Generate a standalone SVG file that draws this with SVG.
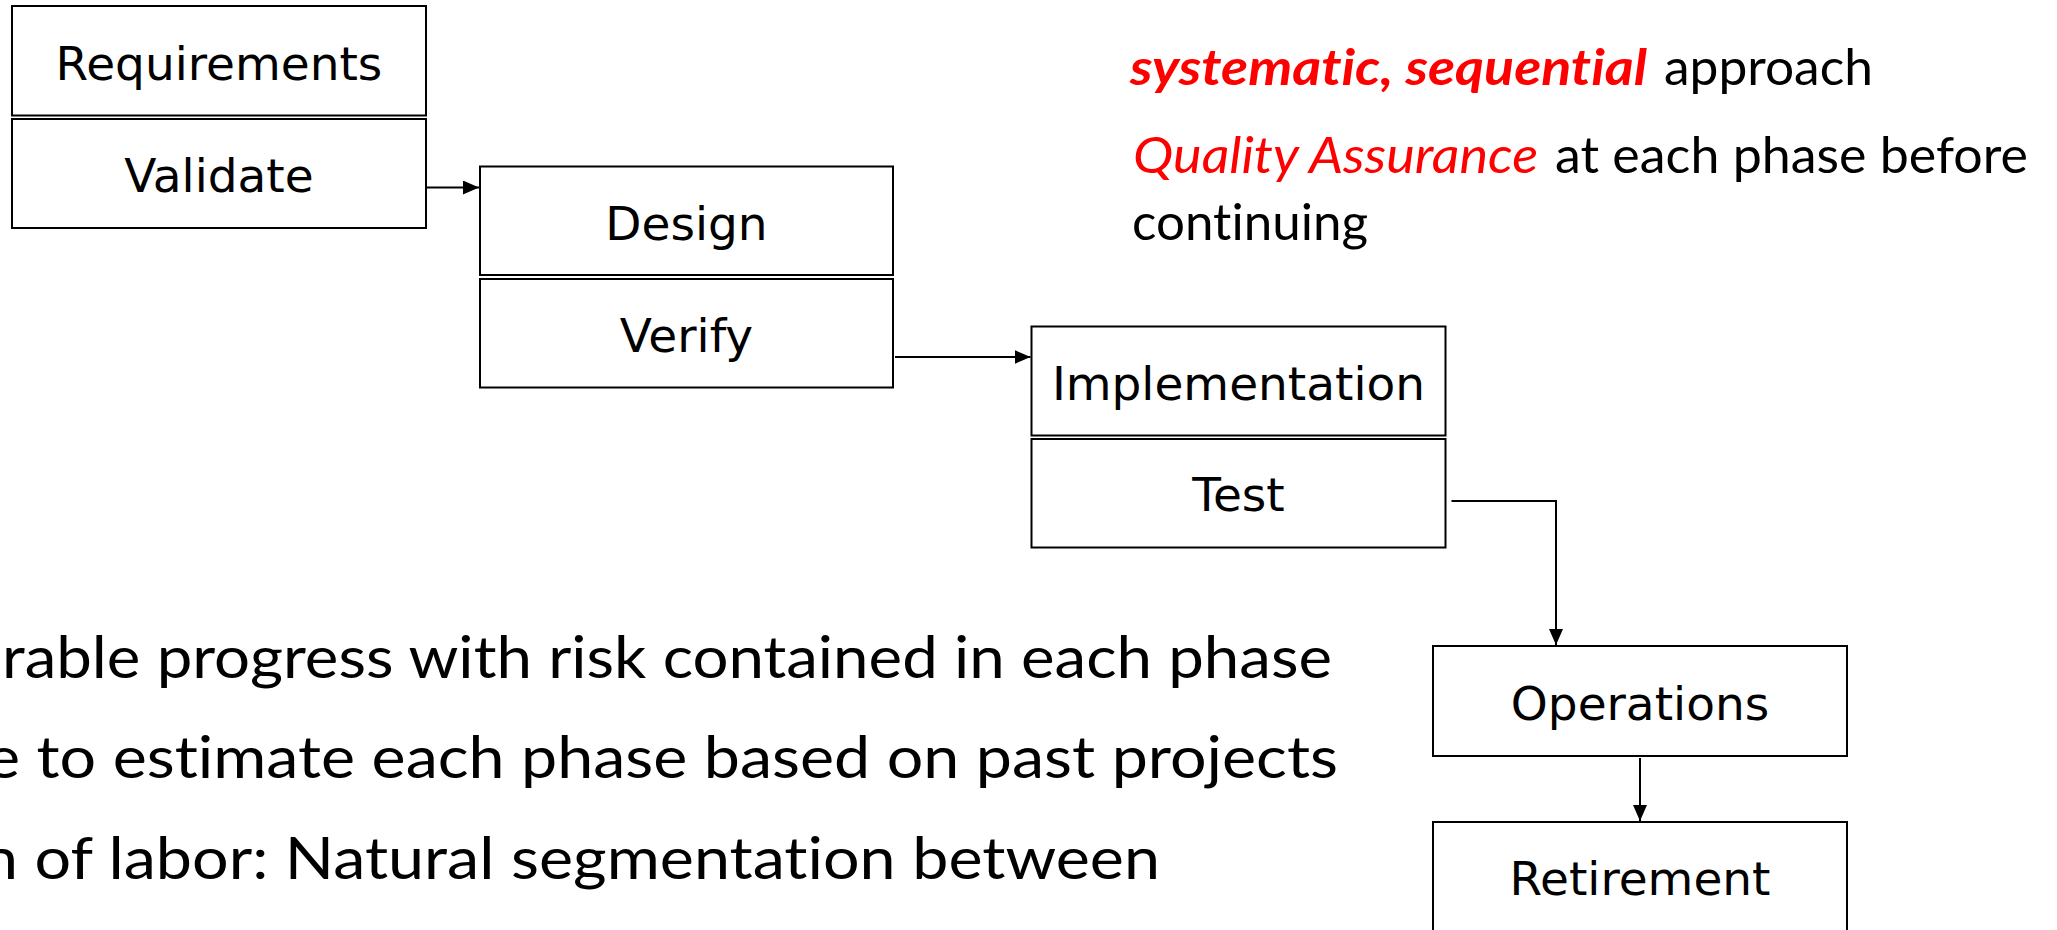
<svg xmlns="http://www.w3.org/2000/svg" width="2057" height="930" viewBox="0 0 2057 930">
  <style>
    .box { fill: #ffffff; stroke: #000000; stroke-width: 2; }
    .lbl { font-family: "DejaVu Sans", Verdana, sans-serif; font-size: 47px; fill: #000000; text-anchor: middle; }
    .wire { fill: none; stroke: #000000; stroke-width: 2; }
    .note { font-family: Lato, "Open Sans", sans-serif; font-size: 50px; fill: #000000; font-variant-ligatures: none; }
    .hl { fill: #ff0000; font-style: italic; }
    .bul { font-family: Lato, "Open Sans", sans-serif; font-size: 59px; fill: #000000; font-variant-ligatures: none; }
  </style>
  <defs>
    <marker id="head" markerWidth="8" markerHeight="7" refX="8" refY="3.5" orient="auto" markerUnits="strokeWidth">
      <path d="M0,0 L8,3.5 L0,7 Z" fill="#000000"/>
    </marker>
  </defs>
  <rect width="2057" height="930" fill="#ffffff"/>

  <!-- phase boxes: each phase has its activity box stacked below -->
  <g id="requirements">
    <rect class="box" x="12" y="6" width="414" height="109.5"/>
    <text class="lbl" x="219" y="80">Requirements</text>
  </g>
  <g id="validate">
    <rect class="box" x="12" y="119" width="414" height="109"/>
    <text class="lbl" x="219" y="192">Validate</text>
  </g>
  <g id="design">
    <rect class="box" x="480" y="166.5" width="413" height="108.5"/>
    <text class="lbl" x="686.5" y="240">Design</text>
  </g>
  <g id="verify">
    <rect class="box" x="480" y="279" width="413" height="108.5"/>
    <text class="lbl" x="686.5" y="351.5">Verify</text>
  </g>
  <g id="implementation">
    <rect class="box" x="1031.5" y="326.5" width="414" height="109"/>
    <text class="lbl" x="1238.5" y="399.5">Implementation</text>
  </g>
  <g id="test">
    <rect class="box" x="1031.5" y="439" width="414" height="108.5"/>
    <text class="lbl" x="1238.5" y="511">Test</text>
  </g>
  <g id="operations">
    <rect class="box" x="1433" y="646" width="414" height="110"/>
    <text class="lbl" x="1640" y="719.5">Operations</text>
  </g>
  <g id="retirement">
    <rect class="box" x="1433" y="822" width="414" height="130"/>
    <text class="lbl" x="1640" y="895">Retirement</text>
  </g>

  <!-- flow between phases -->
  <g id="connectors">
    <path class="wire" d="M427,187.5 H479" marker-end="url(#head)"/>
    <path class="wire" d="M895,357 H1030.5" marker-end="url(#head)"/>
    <path class="wire" d="M1451.5,501 H1556 V645" marker-end="url(#head)"/>
    <path class="wire" d="M1640,758 V821" marker-end="url(#head)"/>
  </g>

  <!-- notes on the right -->
  <g id="notes">
    <text class="note hl" x="1130" y="85" font-weight="bold" textLength="517" lengthAdjust="spacingAndGlyphs">systematic, sequential</text>
    <text class="note" x="1664" y="85" textLength="209" lengthAdjust="spacingAndGlyphs">approach</text>
    <text class="note hl" x="1133" y="173" textLength="405" lengthAdjust="spacingAndGlyphs">Quality Assurance</text>
    <text class="note" x="1555" y="173" textLength="473" lengthAdjust="spacingAndGlyphs">at each phase before</text>
    <text class="note" x="1132" y="240" textLength="236" lengthAdjust="spacingAndGlyphs">continuing</text>
  </g>

  <!-- bullet lines along the bottom; they run past the left edge -->
  <g id="bullets">
    <text class="bul" x="2" y="678" textLength="1330" lengthAdjust="spacingAndGlyphs">rable progress with risk contained in each phase</text>
    <text class="bul" x="-14" y="778" textLength="1352" lengthAdjust="spacingAndGlyphs">e to estimate each phase based on past projects</text>
    <text class="bul" x="-18" y="879" textLength="1178" lengthAdjust="spacingAndGlyphs">n of labor: Natural segmentation between</text>
  </g>
</svg>
